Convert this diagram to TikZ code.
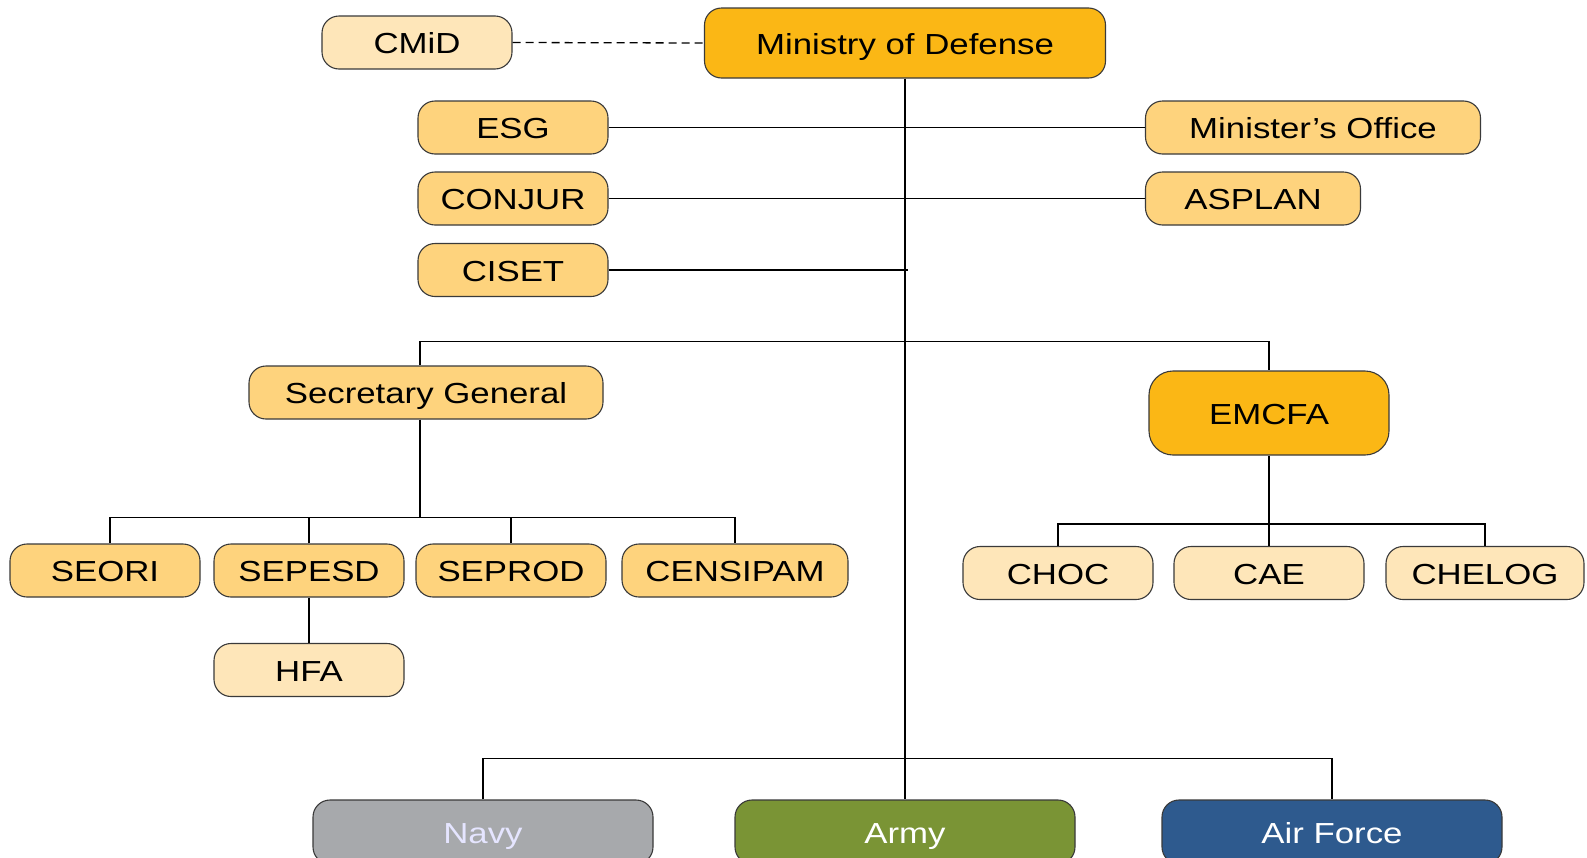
\documentclass[tikz,border=0pt]{standalone}
\usepackage{fontspec}
\setmainfont{Liberation Sans}[FakeStretch=1.2]
\definecolor{gold}{HTML}{FBB715}
\definecolor{lorange}{HTML}{FED37D}
\definecolor{pale}{HTML}{FEE6B9}
\definecolor{navyc}{HTML}{A7A9AC}
\definecolor{armyc}{HTML}{7A9435}
\definecolor{afc}{HTML}{2E5A8E}
\definecolor{edge}{HTML}{3A3A3A}
\tikzset{
  box/.style={draw=edge, line width=1.1pt, rounded corners=17pt, inner sep=0pt,
    minimum height=53pt, text=black, text height=24pt, text depth=2pt,
    font=\fontsize{29}{34}\selectfont},
  goldbox/.style={box, fill=gold, minimum height=70pt},
  orbox/.style={box, fill=lorange},
  palebox/.style={box, fill=pale},
  forcebox/.style={box, minimum width=340pt, minimum height=64pt, text=white},
  conn/.style={draw=black, line width=1.3pt},
}
\begin{document}
\begin{tikzpicture}[x=1pt,y=-1pt]
\clip (0,0) rectangle (1587,857);
\fill[white] (0,0) rectangle (1587,857);
% top
\node[palebox, minimum width=190pt] (cmid) at (417,42.5) {CMiD};
\node[goldbox, minimum width=401pt] (mod) at (905,43) {Ministry of Defense};
\node[orbox, minimum width=190pt] (esg) at (513,127.5) {ESG};
\node[orbox, minimum width=190pt] (conjur) at (513,198.5) {CONJUR};
\node[orbox, minimum width=190pt] (ciset) at (513,270) {CISET};
\node[orbox, minimum width=335pt] (mino) at (1313,127.5) {Minister’s Office};
\node[orbox, minimum width=215pt] (asplan) at (1253,198.5) {ASPLAN};
% middle
\node[orbox, minimum width=354pt] (sg) at (426,392.5) {Secretary General};
\node[goldbox, minimum width=240pt, minimum height=84pt, rounded corners=24pt] (emcfa) at (1269,413) {EMCFA};
\node[orbox, minimum width=190pt] (seori) at (105,570.5) {SEORI};
\node[orbox, minimum width=190pt] (sepesd) at (309,570.5) {SEPESD};
\node[orbox, minimum width=190pt] (seprod) at (511,570.5) {SEPROD};
\node[orbox, minimum width=226pt] (censipam) at (735,570.5) {CENSIPAM};
\node[palebox, minimum width=190pt] (hfa) at (309,670) {HFA};
\node[palebox, minimum width=190pt] (choc) at (1058,573) {CHOC};
\node[palebox, minimum width=190pt] (cae) at (1269,573) {CAE};
\node[palebox, minimum width=198pt] (chelog) at (1485,573) {CHELOG};
% forces
\node[forcebox, fill=navyc, text=white!90!blue] (navy) at (483,832) {Navy};
\node[forcebox, fill=armyc] (army) at (905,832) {Army};
\node[forcebox, fill=afc] (af) at (1332,832) {Air Force};
% connectors
\draw[conn, dash pattern=on 8pt off 5pt] (cmid.east) -- (mod.west);
\draw[conn] (mod.south) -- (army.north);
\draw[conn] (esg.east) -- (mino.west);
\draw[conn] (conjur.east) -- (asplan.west);
\coordinate (cisetend) at (908,270);
\draw[conn] (ciset.east) -- (cisetend);
\draw[conn] ([xshift=-6pt]sg.north) -- ++(0,-24) -| (emcfa.north);
\coordinate (sgbar) at (420,518);
\draw[conn] ([xshift=-6pt]sg.south) -- (sgbar);
\draw[conn] ([xshift=5pt]seori.north) -- ++(0,-26) -| (censipam.north);
\draw[conn] (sepesd.north) -- ++(0,-26);
\draw[conn] (seprod.north) -- ++(0,-26);
\draw[conn] (sepesd.south) -- (hfa.north);
\draw[conn] (emcfa.south) -- (cae.north);
\draw[conn] (choc.north) -- ++(0,-22) -| (chelog.north);
\draw[conn] (navy.north) -- ++(0,-41) -| (af.north);
\end{tikzpicture}
\end{document}
